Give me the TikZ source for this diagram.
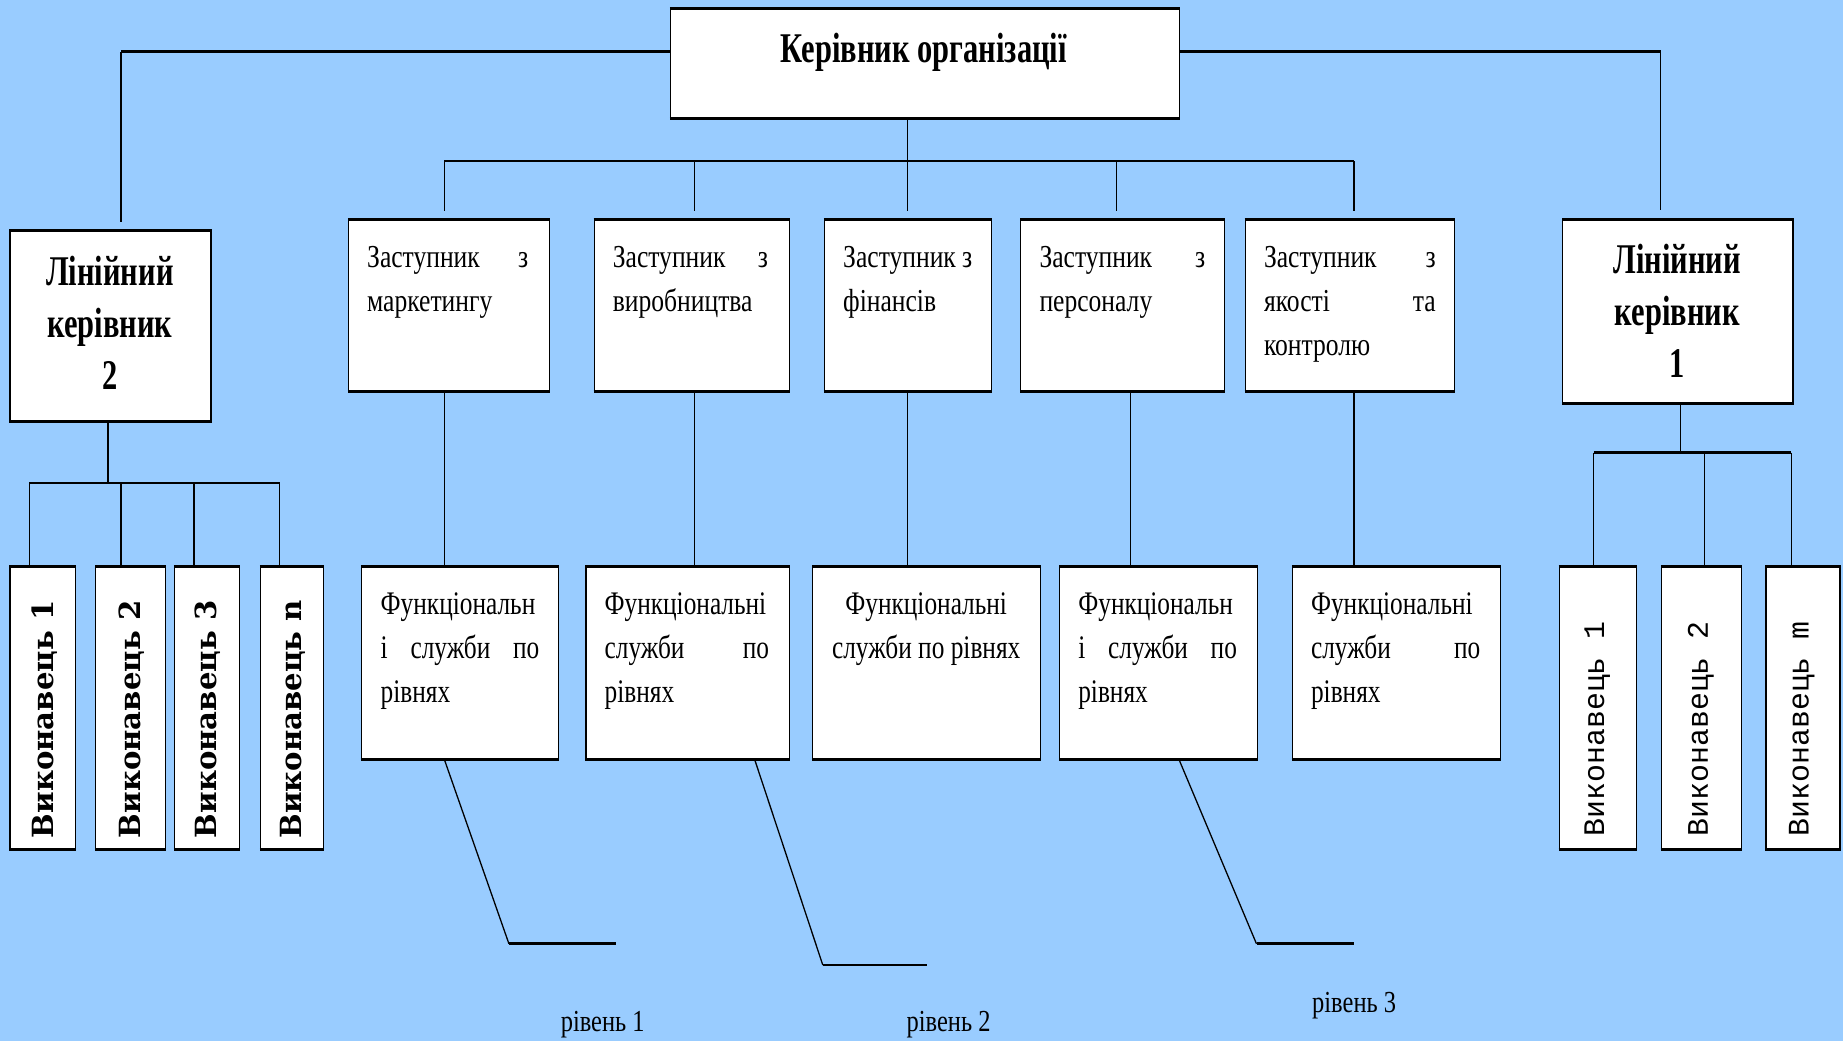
\documentclass[tikz,border=0pt]{standalone}
\usepackage{fontspec}
\setmainfont{Liberation Serif}
\newfontfamily\tnr[FakeStretch=0.8]{Liberation Serif}
\newfontfamily\tnrf[FakeStretch=0.77]{Liberation Serif}
\newfontfamily\tnrb[FakeStretch=0.72]{Liberation Serif}
\newfontfamily\wideserif{DejaVu Serif}
\newfontfamily\courier{Liberation Mono}
\definecolor{bg}{HTML}{99CCFF}
\newcommand\depfont{\tnr\fontsize{13.6pt}{18.7pt}\selectfont}
\newcommand\funfont{\tnrf\fontsize{14pt}{18.8pt}\selectfont}
\newcommand\headfont{\tnrb\bfseries\fontsize{18pt}{22pt}\selectfont}
\newcommand\lexfont{\wideserif\bfseries\fontsize{12.4pt}{14pt}\selectfont}
\newcommand\rexfont{\courier\fontsize{12.7pt}{14pt}\selectfont}
\newcommand\lvlfont{\tnr\fontsize{13pt}{15pt}\selectfont}
\begin{document}
\begin{tikzpicture}[x=0.5pt,y=-0.5pt,
  bx/.style={draw=black, fill=white, line width=0.5pt, inner sep=0pt, anchor=north west},
  tx/.style={inner sep=0pt, anchor=base west},
  hl/.style={line width=1.2pt},
  vl/.style={line width=0.55pt},
  edge/.style={line width=1.3pt},
]
\fill[bg] (0,0) rectangle (1568,886);
\useasboundingbox (0,0) rectangle (1568,886);

% ---------- boxes ----------
\node[bx, minimum width=216.5pt, minimum height=46.5pt] (top) at (570,7) {};
\node[bx, minimum width=85.5pt, minimum height=81pt] (lin2) at (8,196) {};
\node[bx, minimum width=98pt, minimum height=77.5pt] (lin1) at (1329,187) {};
\node[bx, minimum width=85.5pt, minimum height=72.5pt] (d1) at (296,187) {};
\node[bx, minimum width=83pt, minimum height=72.5pt] (d2) at (505,187) {};
\node[bx, minimum width=71pt, minimum height=72.5pt] (d3) at (701,187) {};
\node[bx, minimum width=86.5pt, minimum height=72.5pt] (d4) at (868,187) {};
\node[bx, minimum width=89pt, minimum height=72.5pt] (d5) at (1059,187) {};
\node[bx, minimum width=84pt, minimum height=81.5pt] (f1) at (307,482) {};
\node[bx, minimum width=86.5pt, minimum height=81.5pt] (f2) at (498,482) {};
\node[bx, minimum width=97pt, minimum height=81.5pt] (f3) at (691,482) {};
\node[bx, minimum width=84pt, minimum height=81.5pt] (f4) at (901,482) {};
\node[bx, minimum width=88.5pt, minimum height=81.5pt] (f5) at (1099,482) {};
\node[bx, minimum width=28pt, minimum height=120pt] (le1) at (8,482) {};
\node[bx, minimum width=29.5pt, minimum height=120pt] (le2) at (81,482) {};
\node[bx, minimum width=27.5pt, minimum height=120pt] (le3) at (148,482) {};
\node[bx, minimum width=27pt, minimum height=120pt] (le4) at (221,482) {};
\node[bx, minimum width=33pt, minimum height=120pt] (re1) at (1326,482) {};
\node[bx, minimum width=34pt, minimum height=120pt] (re2) at (1413,482) {};
\node[bx, minimum width=31.5pt, minimum height=120pt] (re3) at (1502,482) {};
\foreach \n in {top,lin2,lin1,d1,d2,d3,d4,d5,f1,f2,f3,f4,f5,le1,le2,le3,le4,re1,re2,re3}
  \draw[edge] (\n.north west) -- (\n.north east) (\n.south west) -- (\n.south east);

% ---------- texts ----------
\node[inner sep=0pt, anchor=base] (ttl) at (786,53) {\headfont Керівник організації};
\node[inner sep=0pt, anchor=base] (lin2t) at (93.5,243) {\parbox[t]{82pt}{\centering\headfont Лінійний\\керівник\\2}};
\node[inner sep=0pt, anchor=base] (lin1t) at (1427,233) {\parbox[t]{94pt}{\centering\headfont Лінійний\\керівник\\1}};

\node[tx] (d1t) at (312,228) {\parbox[t]{68.5pt}{\depfont Заступник\hfill з\\маркетингу}};
\node[tx] (d2t) at (521,228) {\parbox[t]{66pt}{\depfont Заступник\hfill з\\виробництва}};
\node[tx] (d3t) at (717,228) {\parbox[t]{62pt}{\depfont Заступник з\\фінансів}};
\node[tx] (d4t) at (884,228) {\parbox[t]{70.5pt}{\depfont Заступник\hfill з\\персоналу}};
\node[tx] (d5t) at (1075,228) {\parbox[t]{73pt}{\depfont Заступник\hfill з\\якості\hfill та\\контролю}};

\node[tx] (f1t) at (323.5,522.5) {\parbox[t]{67.5pt}{\funfont Функціональн\\і\hfill служби\hfill по\\рівнях}};
\node[tx] (f2t) at (514,522.5) {\parbox[t]{70pt}{\funfont Функціональні\\служби\hfill по\\рівнях}};
\node[inner sep=0pt, anchor=base] (f3t) at (788,522.5) {\parbox[t]{92pt}{\centering\funfont Функціональні\\служби по рівнях}};
\node[tx] (f4t) at (917,522.5) {\parbox[t]{67.5pt}{\funfont Функціональн\\і\hfill служби\hfill по\\рівнях}};
\node[tx] (f5t) at (1115,522.5) {\parbox[t]{72pt}{\funfont Функціональні\\служби\hfill по\\рівнях}};

\node[inner sep=0pt, rotate=90] (le1t) at (38,612) {\lexfont Виконавець 1};
\node[inner sep=0pt, rotate=90] (le2t) at (112,612) {\lexfont Виконавець 2};
\node[inner sep=0pt, rotate=90] (le3t) at (177,612) {\lexfont Виконавець 3};
\node[inner sep=0pt, rotate=90] (le4t) at (249,612) {\lexfont Виконавець n};

\node[inner sep=0pt, rotate=90] (re1t) at (1359,620) {\rexfont Виконавець 1};
\node[inner sep=0pt, rotate=90] (re2t) at (1447,620) {\rexfont Виконавець 2};
\node[inner sep=0pt, rotate=90] (re3t) at (1533,620) {\rexfont Виконавець m};

\node[tx] (lv1) at (476.7,878) {\lvlfont рівень 1};
\node[tx] (lv2) at (771,878) {\lvlfont рівень 2};
\node[tx] (lv3) at (1116,861) {\lvlfont рівень 3};

% ---------- connectors ----------
\coordinate (jl) at (103,44);
\coordinate (jr) at (1413,44);
\draw[hl] (top.west |- jl) -- (jl);
\draw[vl, shorten >=3.5pt] (jl) -- (jl |- lin2.north);
\draw[hl] (top.east |- jr) -- (jr);
\draw[vl, shorten >=4pt] (jr) -- (jr |- lin1.north);

\coordinate (b1) at (378,137);
\coordinate (b2) at (591,137);
\coordinate (b3) at (772,137);
\coordinate (b4) at (950,137);
\coordinate (b5) at (1152,137);
\draw[vl] (top.south -| b3) -- (b3);
\draw[hl] (b1) -- (b5);
\foreach \i in {1,...,5}
  \draw[vl, shorten >=3.8pt] (b\i) -- (b\i |- d\i.north);

\coordinate (k1) at (378,0);
\coordinate (k2) at (591,0);
\coordinate (k3) at (772,0);
\coordinate (k4) at (962,0);
\coordinate (k5) at (1152,0);
\foreach \i in {1,...,5}
  \draw[vl] (k\i |- d\i.south) -- (k\i |- f\i.north);

\coordinate (s1) at (378,0);
\coordinate (g1a) at (433,803);
\coordinate (g1b) at (524,803);
\draw[vl] (s1 |- f1.south) -- (g1a);
\draw[hl] (g1a) -- (g1b);
\coordinate (s2) at (642,0);
\coordinate (g2a) at (700,821);
\coordinate (g2b) at (789,821);
\draw[vl] (s2 |- f2.south) -- (g2a);
\draw[hl] (g2a) -- (g2b);
\coordinate (s4) at (1003,0);
\coordinate (g4a) at (1069,803);
\coordinate (g4b) at (1152,803);
\draw[vl] (s4 |- f4.south) -- (g4a);
\draw[hl] (g4a) -- (g4b);

\coordinate (lb) at (92,411);
\draw[vl] (lb |- lin2.south) -- (lb);
\coordinate (e1) at (25,411);
\coordinate (e2) at (103,411);
\coordinate (e3) at (165,411);
\coordinate (e4) at (238,411);
\draw[hl] (e1) -- (e4);
\foreach \i in {1,...,4}
  \draw[vl] (e\i) -- (e\i |- le\i.north);

\coordinate (rb) at (1430,385);
\draw[vl] (rb |- lin1.south) -- (rb);
\coordinate (q1) at (1356,385);
\coordinate (q2) at (1450,385);
\coordinate (q3) at (1524,385);
\draw[hl] (q1) -- (q3);
\foreach \i in {1,...,3}
  \draw[vl] (q\i) -- (q\i |- re\i.north);
\end{tikzpicture}
\end{document}
